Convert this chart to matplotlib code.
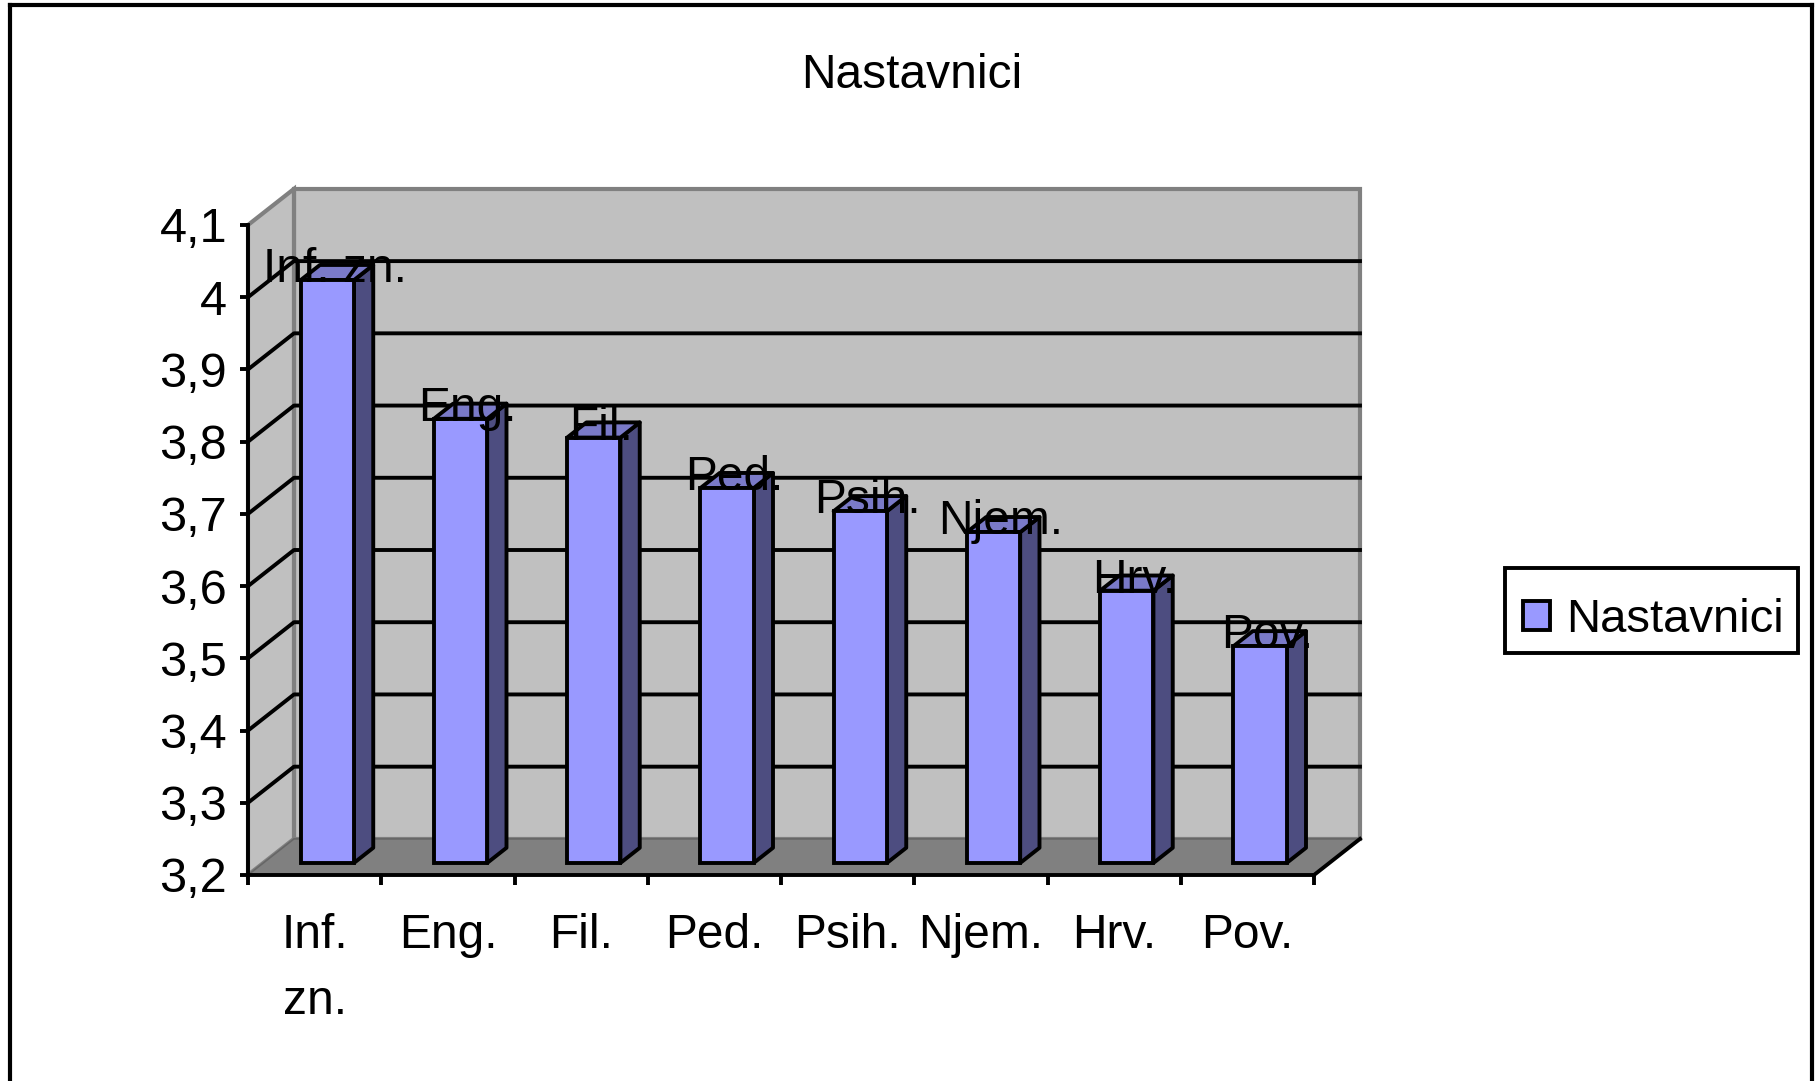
import matplotlib
matplotlib.use("Agg")
import matplotlib.pyplot as plt
from matplotlib.lines import Line2D
from matplotlib.patches import Patch, Polygon, Rectangle

plt.rcParams['font.family'] = ['Liberation Sans', 'DejaVu Sans']

# Data
categories = ['Inf. zn.', 'Eng.', 'Fil.', 'Ped.', 'Psih.', 'Njem.', 'Hrv.', 'Pov.']
tick_labels = ['Inf.\nzn.', 'Eng.', 'Fil.', 'Ped.', 'Psih.', 'Njem.', 'Hrv.', 'Pov.']
values = [4.007, 3.815, 3.789, 3.719, 3.687, 3.658, 3.577, 3.500]
y_ticks = [3.2, 3.3, 3.4, 3.5, 3.6, 3.7, 3.8, 3.9, 4.0, 4.1]
y_labels = ['3,2', '3,3', '3,4', '3,5', '3,6', '3,7', '3,8', '3,9', '4', '4,1']
series_name = 'Nastavnici'

y_min, y_max = 3.2, 4.1
n = len(categories)

# 3D look: how far the back wall is pushed, in data units
depth_x = 0.345
depth_y = 0.05
bar_off_x = depth_x / 3
bar_off_y = depth_y / 3
bar_side = 0.42
bar_left = 0.28
bar_width = 0.40

FONT = 35
LABEL_FONT = 34.5
LW = 2.8
FACE, SIDE, TOP = '#9999FF', '#4D4D80', '#7A7AC8'

fig = plt.figure(figsize=(18.19, 10.81), dpi=100)
ax = fig.add_axes([248 / 1819, 206 / 1081, 1066 / 1819, 650 / 1081])
ax.patch.set_visible(False)
ax.set_xlim(0, n)
ax.set_ylim(y_min, y_max)

# Walls and floor
wall = dict(facecolor='#C0C0C0', edgecolor='#808080', linewidth=3, clip_on=False, zorder=1)
ax.add_patch(Polygon([(depth_x, y_min + depth_y), (n + depth_x, y_min + depth_y),
                      (n + depth_x, y_max + depth_y), (depth_x, y_max + depth_y)], **wall))
ax.add_patch(Polygon([(0, y_min), (depth_x, y_min + depth_y),
                      (depth_x, y_max + depth_y), (0, y_max)], **wall))
ax.add_patch(Polygon([(0, y_min), (n, y_min), (n + depth_x, y_min + depth_y),
                      (depth_x, y_min + depth_y)], facecolor='#808080', edgecolor='#666666',
                     linewidth=1.2, clip_on=False, zorder=1.2))
ax.plot([n, n + depth_x], [y_min, y_min + depth_y], color='black', lw=LW, clip_on=False, zorder=1.3)

# Gridlines run over the left wall and then along the back wall
for y in y_ticks[1:-1]:
    ax.plot([0, depth_x, n + depth_x], [y, y + depth_y, y + depth_y],
            color='black', lw=LW, clip_on=False, zorder=1.5)

# Bars: front face from ax.bar, side and top as polygons
xs = [i + bar_left + bar_off_x for i in range(n)]
outline = dict(edgecolor='black', linewidth=LW, joinstyle='round', clip_on=False, zorder=3)
for x, v in zip(xs, values):
    top = v + bar_off_y
    base = y_min + bar_off_y
    r = x + bar_width
    sx, sy = bar_side * depth_x, bar_side * depth_y
    ax.add_patch(Polygon([(r, base), (r + sx, base + sy), (r + sx, top + sy), (r, top)],
                         facecolor=SIDE, **outline))
    ax.add_patch(Polygon([(x, top), (r, top), (r + sx, top + sy), (x + sx, top + sy)],
                         facecolor=TOP, **outline))
ax.bar(xs, [v - y_min for v in values], width=bar_width, bottom=y_min + bar_off_y,
       align='edge', color=FACE, edgecolor='black', linewidth=LW, zorder=3.1)

# Data labels sit on top of the bars
for x, v, c in zip(xs, values, categories):
    ax.text(x + bar_width / 2 + 0.055, v + bar_off_y - 0.003, c, ha='center', va='baseline',
            fontsize=LABEL_FONT, color='black', zorder=5, clip_on=False)

# Axes
for s in ['top', 'right']:
    ax.spines[s].set_visible(False)
for s in ['left', 'bottom']:
    ax.spines[s].set_linewidth(LW)
    ax.spines[s].set_zorder(4)
ax.set_yticks(y_ticks)
ax.set_yticklabels(y_labels, fontsize=FONT)
ax.tick_params(axis='y', length=6, width=LW, pad=9)
ax.set_xticks(range(n + 1))
ax.set_xticklabels([])
ax.tick_params(axis='x', which='major', length=7, width=LW)
ax.set_xticks([i + 0.5 for i in range(n)], minor=True)
ax.set_xticklabels(tick_labels, minor=True, fontsize=LABEL_FONT, linespacing=1.6)
ax.tick_params(axis='x', which='minor', length=0, pad=27)

# Title, legend and the outer frame
fig.text(912 / 1819, 1 - 75 / 1081, series_name, ha='center', va='center', fontsize=LABEL_FONT)
fig.add_artist(Rectangle((1505 / 1819, 1 - 653 / 1081), 293 / 1819, 85 / 1081, transform=fig.transFigure,
                         facecolor='white', edgecolor='black', linewidth=LW))
leg = fig.legend(handles=[Patch(facecolor=FACE, edgecolor='black', linewidth=LW, label=series_name)],
                 loc='center left', bbox_to_anchor=(1523 / 1819, 1 - 620 / 1081), fontsize=34,
                 frameon=False, borderpad=0, borderaxespad=0,
                 handlelength=0.58, handleheight=0.58, handletextpad=0.33)

for xd, yd in [([10, 10], [5, 1081]), ([10, 1812], [5, 5]), ([1812, 1812], [5, 1081])]:
    fig.add_artist(Line2D([p / 1819 for p in xd], [1 - p / 1081 for p in yd], color='black', lw=3))

fig.savefig('out.png', dpi=100)
